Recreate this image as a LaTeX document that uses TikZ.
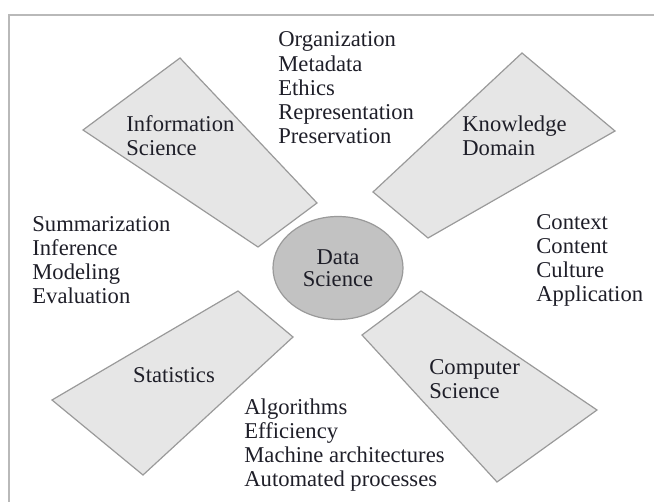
\documentclass[tikz,border=0pt]{standalone}
\usepackage{fontspec}
\setmainfont{Liberation Serif}
\usetikzlibrary{shapes.geometric}

\definecolor{panelfill}{HTML}{E6E6E6}
\definecolor{paneledge}{HTML}{9A9A9A}
\definecolor{hubfill}{HTML}{C2C2C2}
\definecolor{inkcol}{HTML}{1E1E28}

\tikzset{
  panel/.style={draw=paneledge, fill=panelfill, line width=0.6pt, line join=miter},
  topic/.style={anchor=base west, align=left, inner sep=0pt, text=inkcol,
    font=\fontsize{11.3}{12.15}\selectfont},
  hub/.style={ellipse, draw=paneledge, fill=hubfill, line width=0.6pt,
    minimum width=65pt, minimum height=51.5pt, inner sep=0pt, align=center,
    text=inkcol, font=\fontsize{11.3}{11}\selectfont}
}

\begin{document}
\begin{tikzpicture}[x=0.5pt, y=-0.5pt]
    \useasboundingbox (0,0) rectangle (654,502);
    \clip (0,0) rectangle (654,502);

    % outer frame, runs off to the right and bottom
    \draw[gray!55, line width=0.6pt] (9,15) rectangle (700,540);

    % the four blades round the hub
    \draw[panel] (180,58) -- (317,203) -- (258,247) -- (83,130) -- cycle;   % information science
    \draw[panel] (522,53) -- (615,131) -- (428,238) -- (373,192) -- cycle;  % knowledge domain
    \draw[panel] (238,291) -- (293,337) -- (143,475) -- (52,400) -- cycle;  % statistics
    \draw[panel] (421,291) -- (597,410) -- (497,482) -- (362,335) -- cycle; % computer science

    % hub
    \node[hub] (ds) at (338,268) {Data\\Science};

    % blade labels (base = last line)
    \node[topic] (infosci) at (126,156) {Information\\Science};
    \node[topic] (knowdom) at (462,156) {Knowledge\\Domain};
    \node[topic, anchor=center] (stats) at (174,375) {Statistics};
    \node[topic] (compsci) at (429,399) {Computer\\Science};

    % lists between the blades
    \node[topic] (infolist) at (278,144) {Organization\\Metadata\\Ethics\\Representation\\Preservation};
    \node[topic] (statlist) at (32,304) {Summarization\\Inference\\Modeling\\Evaluation};
    \node[topic] (domlist) at (536,302) {Context\\Content\\Culture\\Application};
    \node[topic] (complist) at (244,487) {Algorithms\\Efficiency\\Machine architectures\\Automated processes};
\end{tikzpicture}
\end{document}
